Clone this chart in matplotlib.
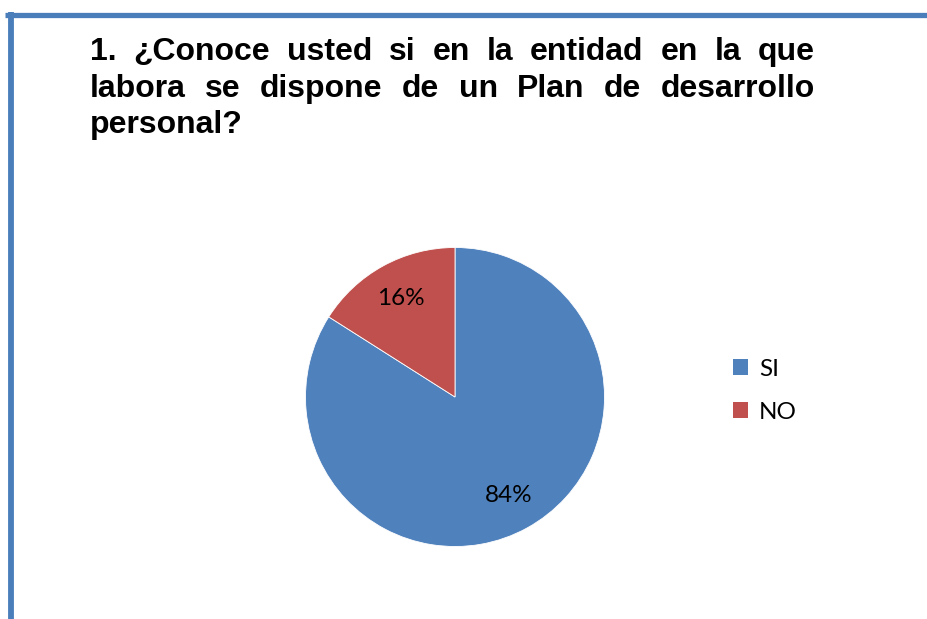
import matplotlib
matplotlib.use('Agg')
from matplotlib import pyplot as plt
from matplotlib.lines import Line2D
from matplotlib.patches import Patch

labels = ['SI', 'NO']
shares = [84, 16]
colors = ['#4F81BD', '#C0504D']
title_lines = [
    '1. ¿Conoce usted si en la entidad en la que',
    'labora se dispone de un Plan de desarrollo',
    'personal?',
]

W, H = 928, 619
fig = plt.figure(figsize=(W / 100, H / 100), dpi=100)
fig.patch.set_facecolor('white')

# blue frame (top and left edges visible)
border = '#4A7EBB'
fig.add_artist(Line2D([5 / W, 1], [1 - 14.5 / H] * 2, color=border, lw=3.8,
                      transform=fig.transFigure, solid_capstyle='butt'))
fig.add_artist(Line2D([11 / W] * 2, [0, 1 - 12 / H], color=border, lw=4.2,
                      transform=fig.transFigure, solid_capstyle='butt'))

# title, justified between x=90 and x=815
tfont = dict(family='Liberation Sans', weight='bold', size=23)
renderer = fig.canvas.get_renderer()
x0, x1 = 90, 815
baselines = [60, 97, 133]
for i, line in enumerate(title_lines):
    y = 1 - baselines[i] / H
    words = line.split(' ')
    justify = i < len(title_lines) - 1
    if not justify:
        fig.text(x0 / W, y, line, va='baseline', ha='left', **tfont)
        continue
    texts = [fig.text(0, y, w, va='baseline', ha='left', **tfont) for w in words]
    widths = [t.get_window_extent(renderer).width for t in texts]
    gap = (x1 - x0 - sum(widths)) / (len(words) - 1)
    x = x0
    for t, w in zip(texts, widths):
        t.set_x(x / W)
        x += w + gap

# pie
cx, cy, r = 455, 397, 149.5
ax = fig.add_axes([(cx - r) / W, (H - cy - r) / H, 2 * r / W, 2 * r / H])
wedges, _, autotexts = ax.pie(shares, colors=colors, startangle=90, counterclock=False,
                              autopct='%1.0f%%', pctdistance=0.75,
                              wedgeprops=dict(linewidth=0.6, edgecolor='white'),
                              textprops=dict(family='Lato', size=17.5, color='black'))
ax.set_xlim(-1, 1)
ax.set_ylim(-1, 1)
ax.set_aspect('equal')

handles = [Patch(facecolor=c, edgecolor='none') for c in colors]
fig.legend(handles, labels, loc='upper left', bbox_to_anchor=(711 / W, 1 - 337 / H),
           frameon=False, prop=dict(family='Lato', size=17.5),
           handlelength=0.62, handleheight=0.62, handletextpad=0.45, labelspacing=0.9)

fig.savefig('out.png', dpi=100, facecolor='white')
